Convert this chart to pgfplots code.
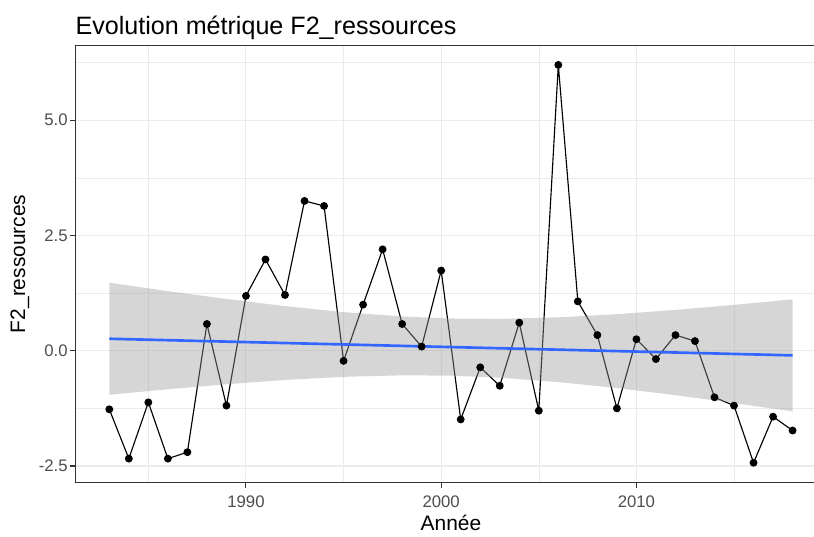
\documentclass[border=0pt]{standalone}
\usepackage{pgfplots}
\pgfplotsset{compat=1.18}
\usepackage{fontspec}
\setmainfont{Liberation Sans}
\definecolor{grey20}{HTML}{333333}
\definecolor{grey30}{HTML}{4D4D4D}
\definecolor{grey92}{HTML}{EBEBEB}
\definecolor{smoothblue}{HTML}{3366FF}
\definecolor{ribbongrey}{HTML}{999999}
\pgfplotstableread{
year value
1983 -1.27
1984 -2.34
1985 -1.12
1986 -2.34
1987 -2.20
1988 0.58
1989 -1.19
1990 1.19
1991 1.98
1992 1.21
1993 3.25
1994 3.14
1995 -0.22
1996 1.00
1997 2.20
1998 0.58
1999 0.09
2000 1.74
2001 -1.49
2002 -0.36
2003 -0.76
2004 0.61
2005 -1.30
2006 6.20
2007 1.07
2008 0.34
2009 -1.25
2010 0.25
2011 -0.18
2012 0.34
2013 0.21
2014 -1.01
2015 -1.19
2016 -2.43
2017 -1.43
2018 -1.73
}\metric
\begin{document}
\begin{tikzpicture}
\begin{axis}[
  scale only axis, width=395.1pt, height=230pt,
  xmin=1981.25, xmax=2019.75, ymin=-2.86, ymax=6.63,
  axis line style={grey20, line width=0.55pt},
  xtick={1990,2000,2010}, xticklabels={1990,2000,2010},
  minor xtick={1985,1995,2005,2015},
  ytick={-2.5,0,2.5,5}, yticklabels={-2.5,0.0,2.5,5.0},
  minor ytick={-1.25,1.25,3.75,6.25},
  grid=both,
  major grid style={grey92, line width=0.55pt},
  minor grid style={grey92, line width=0.3pt},
  tick align=outside, xtick pos=bottom, ytick pos=left,
  major tick length=2.75pt, minor tick length=0pt,
  tick style={grey20, line width=0.55pt},
  ticklabel style={font=\fontsize{8.8}{10}\selectfont, text=grey30},
  xticklabel style={anchor=north, inner sep=0pt, yshift=-4.2pt},
  yticklabel style={anchor=east, inner sep=0pt, xshift=-1pt},
  xlabel={Année}, ylabel={F2\_ressources},
  label style={font=\fontsize{11}{13}\selectfont, text=black},
  xlabel style={at={(axis description cs:0.5,0)}, anchor=center, yshift=-21pt},
  ylabel style={at={(axis description cs:-0.0734,0.5)}, anchor=center},
  title={Evolution métrique F2\_ressources},
  title style={font=\fontsize{13.2}{15}\selectfont, at={(axis description cs:0,1)}, anchor=base west, yshift=-0.3pt, inner sep=0pt},
]
\addplot[black, line width=0.6pt, mark=*, mark size=1.75pt, mark options={solid, fill=black}] table[x=year, y=value] {\metric};
\addplot[draw=none, fill=ribbongrey, fill opacity=0.4] coordinates {
 (1983,1.475) (1986,1.294) (1989,1.123) (1992,0.968) (1995,0.838) (1998,0.743) (2000.5,0.700)
 (2003,0.692) (2006,0.725) (2009,0.793) (2012,0.886) (2015,0.995) (2018,1.115)
 (2018,-1.315) (2015,-1.135) (2012,-0.964) (2009,-0.809) (2006,-0.679) (2003,-0.584)
 (2000.5,-0.540) (1998,-0.533) (1995,-0.566) (1992,-0.634) (1989,-0.727) (1986,-0.836) (1983,-0.955)
} -- cycle;
\addplot[smoothblue, line width=1.4pt] coordinates {(1983,0.26) (2018,-0.10)};
\end{axis}
\pgfresetboundingbox
\path[use as bounding box] ([xshift=-39.5pt,yshift=-28.4pt]current axis.south west) rectangle ([xshift=-6.7pt,yshift=23.7pt]current axis.north east);
\end{tikzpicture}
\end{document}
